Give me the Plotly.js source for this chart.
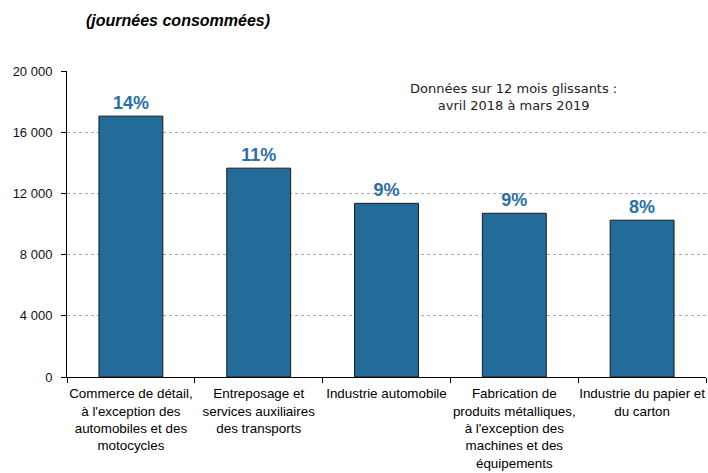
<!DOCTYPE html>
<html><head><meta charset="utf-8">
<script src="https://cdn.plot.ly/plotly-3.0.1.min.js"></script>
<style>html,body{margin:0;padding:0;background:#fff}#c{width:708px;height:473px}</style>
</head><body><div id="c"></div>
<script>
const categories = [
  "Commerce de détail,<br>à l'exception des<br>automobiles et des<br>motocycles",
  "Entreposage et<br>services auxiliaires<br>des transports",
  "Industrie automobile",
  "Fabrication de<br>produits métalliques,<br>à l'exception des<br>machines et des<br>équipements",
  "Industrie du papier et<br>du carton"
];
const values = [17050, 13650, 11350, 10700, 10250];
const shareLabels = ["14%", "11%", "9%", "9%", "8%"];
const yTicks = [0, 4000, 8000, 12000, 16000, 20000];

const trace = {
  type: "bar",
  x: categories,
  y: values,
  width: 0.5,
  marker: {color: "#236b99", line: {color: "#1a1a1a", width: 1}},
  text: shareLabels,
  textposition: "outside",
  textfont: {family: "Liberation Sans, Arial, sans-serif", size: 18, color: "#2a6fa3", weight: "bold"},
  cliponaxis: false,
  hoverinfo: "none"
};

const layout = {
  width: 708, height: 473,
  margin: {l: 67, r: 2, t: 71, b: 96},
  paper_bgcolor: "#fff", plot_bgcolor: "#fff",
  separators: ", ",
  showlegend: false,
  bargap: 0.5,
  xaxis: {
    type: "category",
    showline: true, linecolor: "#000", linewidth: 1,
    ticks: "outside", tickson: "boundaries", ticklen: 5, tickcolor: "#000",
    tickangle: 0,
    ticklabelstandoff: 4,
    tickfont: {family: "Liberation Sans, Arial, sans-serif", size: 13.4, color: "#000"},
    showgrid: false, fixedrange: true
  },
  yaxis: {
    range: [0, 20000],
    tickvals: yTicks,
    tickformat: ",d",
    showline: true, linecolor: "#000", linewidth: 1,
    ticks: "outside", ticklen: 5, tickcolor: "#000",
    ticklabelstandoff: 6,
    tickfont: {family: "Liberation Sans, Arial, sans-serif", size: 13, color: "#111"},
    showgrid: true, gridcolor: "#aaaaaa", griddash: "dot", gridwidth: 1,
    zeroline: false, fixedrange: true
  },
  annotations: [
    {text: "<b><i>(journées consommées)</i></b>", xref: "paper", yref: "paper",
     x: (84-67)/639, xanchor: "left", y: 1, yanchor: "bottom", yshift: 40, showarrow: false,
     font: {family: "Liberation Sans, Arial, sans-serif", size: 16, color: "#000"}, align: "left"},
    {text: "Données sur 12 mois glissants :<br>avril 2018 à mars 2019", xref: "paper", yref: "paper",
     x: (513-67)/639, xanchor: "center", y: (377-79)/306, yanchor: "top", showarrow: false,
     font: {family: "DejaVu Sans, sans-serif", size: 13, color: "#222"}, align: "center"}
  ]
};

Plotly.newPlot("c", [trace], layout, {displayModeBar: false, staticPlot: true});
</script></body></html>
